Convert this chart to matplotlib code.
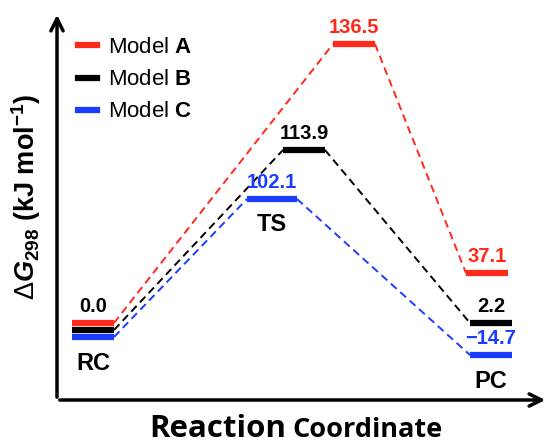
"""
Free energy profile for the three models
"""

import matplotlib
matplotlib.use('Agg')
import matplotlib.pyplot as plt
from matplotlib.lines import Line2D

plt.rcParams.update({
    'font.family': 'Liberation Sans',
    'mathtext.fontset': 'custom',
    'mathtext.rm': 'Liberation Sans',
    'mathtext.it': 'Liberation Sans:italic:bold',
    'mathtext.bf': 'Liberation Sans:bold',
})

models = ['A', 'B', 'C']
model_colors = ['#ff2a1a', 'black', '#1a3cff']
label_colors = [['black', '#ff2a1a', '#ff2a1a'],
                ['black', 'black', 'black'],
                ['#1a3cff', '#1a3cff', '#1a3cff']]
stages = ['RC', 'TS', 'PC']

# free energies (kJ/mol) shown as labels
energy_A = [0.0, 136.5, 37.1]
energy_B = [None, 113.9, 2.2]
energy_C = [None, 102.1, -14.7]

# schematic heights of the levels as drawn (not to scale)
level_A = [77, 356, 127]
level_B = [70, 250, 77]
level_C = [63, 201, 45]

# horizontal centre of each level along the reaction coordinate
xpos_A = [36, 297, 430]
xpos_B = [36, 247, 434]
xpos_C = [36, 215, 434]

energies = [energy_A, energy_B, energy_C]
levels = [level_A, level_B, level_C]
xpos = [xpos_A, xpos_B, xpos_C]

half = 21  # half width of a level bar


def bar_half(m, i):
    # the blue TS bar is a bit wider
    return 25 if (m == 2 and i == 1) else half


fig = plt.figure(figsize=(5.5, 4.43), dpi=100)
ax = fig.add_axes([57 / 550, 43 / 443, 491 / 550, 388 / 443])
ax.set_xlim(0, 491)
ax.set_ylim(0, 388)
ax.axis('off')

# axes arrows
arrow = dict(arrowstyle='->', lw=2.5, color='black', mutation_scale=22)
ax.annotate('', xy=(0, 1.0), xytext=(0, 0), xycoords='axes fraction', arrowprops=arrow)
ax.annotate('', xy=(1.0, 0), xytext=(0, 0), xycoords='axes fraction', arrowprops=arrow)

for m, color in enumerate(model_colors):
    xs, ys, es = xpos[m], levels[m], energies[m]
    for i in range(3):
        hw = bar_half(m, i)
        ax.plot([xs[i] - hw, xs[i] + hw], [ys[i], ys[i]], color=color, lw=4.5,
                solid_capstyle='butt', zorder=3)
        if es[i] is not None:
            txt = f'{es[i]:.1f}'.replace('-', '\u2212')
            ax.annotate(txt, (xs[i], ys[i]), xytext=(0, 8), textcoords='offset points',
                        ha='center', va='baseline', color=label_colors[m][i],
                        fontsize=14.5, fontweight='bold')
    # dashed connectors
    for i in range(2):
        ax.plot([xs[i] + bar_half(m, i), xs[i + 1] - bar_half(m, i + 1)], [ys[i], ys[i + 1]],
                color=color, lw=1.4, ls=(0, (4, 2.5)))

# stage names
ax.annotate('RC', (xpos_C[0], level_C[0]), xytext=(0, -11), textcoords='offset points',
            ha='center', va='top', fontsize=17, fontweight='bold')
ax.annotate('TS', (xpos_C[1], level_C[1]), xytext=(0, -10), textcoords='offset points',
            ha='center', va='top', fontsize=17, fontweight='bold')
ax.annotate('PC', (xpos_C[2], level_C[2]), xytext=(0, -11), textcoords='offset points',
            ha='center', va='top', fontsize=17, fontweight='bold')

# legend
handles = [Line2D([0], [0], color=c, lw=4.5) for c in model_colors]
labels = [f'Model $\\mathbf{{{m}}}$' for m in models]
ax.legend(handles, labels, loc='upper left', bbox_to_anchor=(0.043, 0.935), frameon=False,
          fontsize=16, handlelength=0.85, handletextpad=0.5, labelspacing=0.5,
          borderaxespad=0, borderpad=0)

# axis labels
fig.text(0.048, 0.555, '$\\Delta G_{\\mathbf{298}}$ (kJ mol$^{\\mathbf{-1}}$)', rotation=90,
         ha='center', va='center', fontsize=19.5, fontweight='bold')
fig.text(149 / 550, 6 / 443, 'Reaction', ha='left', va='baseline', fontsize=22.5,
         fontweight='bold', family='Open Sans')
fig.text(292 / 550, 6 / 443, 'Coordinate', ha='left', va='baseline', fontsize=19.5,
         fontweight='bold', family='Open Sans')

fig.savefig('out.png', dpi=100)
